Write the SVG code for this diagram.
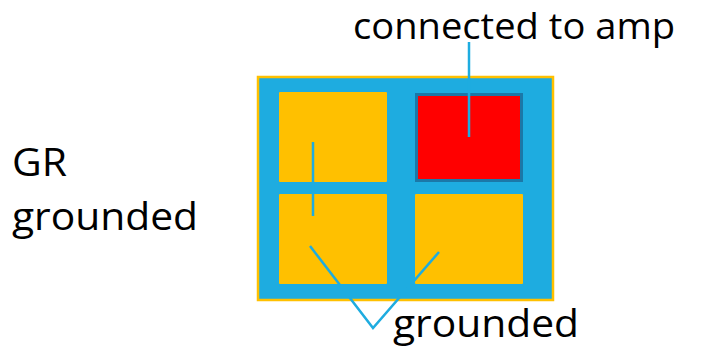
<svg xmlns="http://www.w3.org/2000/svg" width="710" height="351" viewBox="0 0 710 351">
<style>
.lbl{font-family:"Open Sans","Liberation Sans",sans-serif;font-size:38px;fill:#000}
.pad{fill:#FFC000}
.wire{stroke:#1EACE0;stroke-width:2.5;fill:none}
</style>
<rect width="710" height="351" fill="#fff"/>
<g id="chip">
<rect x="258" y="77" width="295" height="223" fill="#1EACE0" stroke="#FFC000" stroke-width="2.5"/>
</g>
<g id="pad-tl"><rect class="pad" x="279" y="92" width="108" height="90" rx="1"/></g>
<g id="pad-tr"><rect x="416.5" y="94.5" width="105" height="86" fill="#FF0000" stroke="#1B78A8" stroke-width="3"/></g>
<g id="pad-bl"><rect class="pad" x="279" y="194" width="108" height="90" rx="1"/></g>
<g id="pad-br"><rect class="pad" x="415" y="194" width="108" height="90" rx="1"/></g>
<g id="connectors">
<line class="wire" x1="469" y1="42" x2="469" y2="137"/>
<line class="wire" x1="313" y1="142" x2="313" y2="216"/>
<polyline class="wire" points="310,246 373,328 439,252"/>
</g>
<g id="label-amp"><text class="lbl" x="353" y="39" style="font-size:36px" textLength="322" lengthAdjust="spacingAndGlyphs">connected to amp</text></g>
<g id="label-gr"><text class="lbl" x="12" y="176" textLength="55" lengthAdjust="spacingAndGlyphs">GR</text>
<text class="lbl" x="12" y="230" textLength="186" lengthAdjust="spacingAndGlyphs">grounded</text></g>
<g id="label-grounded"><text class="lbl" x="393" y="337" textLength="186" lengthAdjust="spacingAndGlyphs">grounded</text></g>
</svg>
